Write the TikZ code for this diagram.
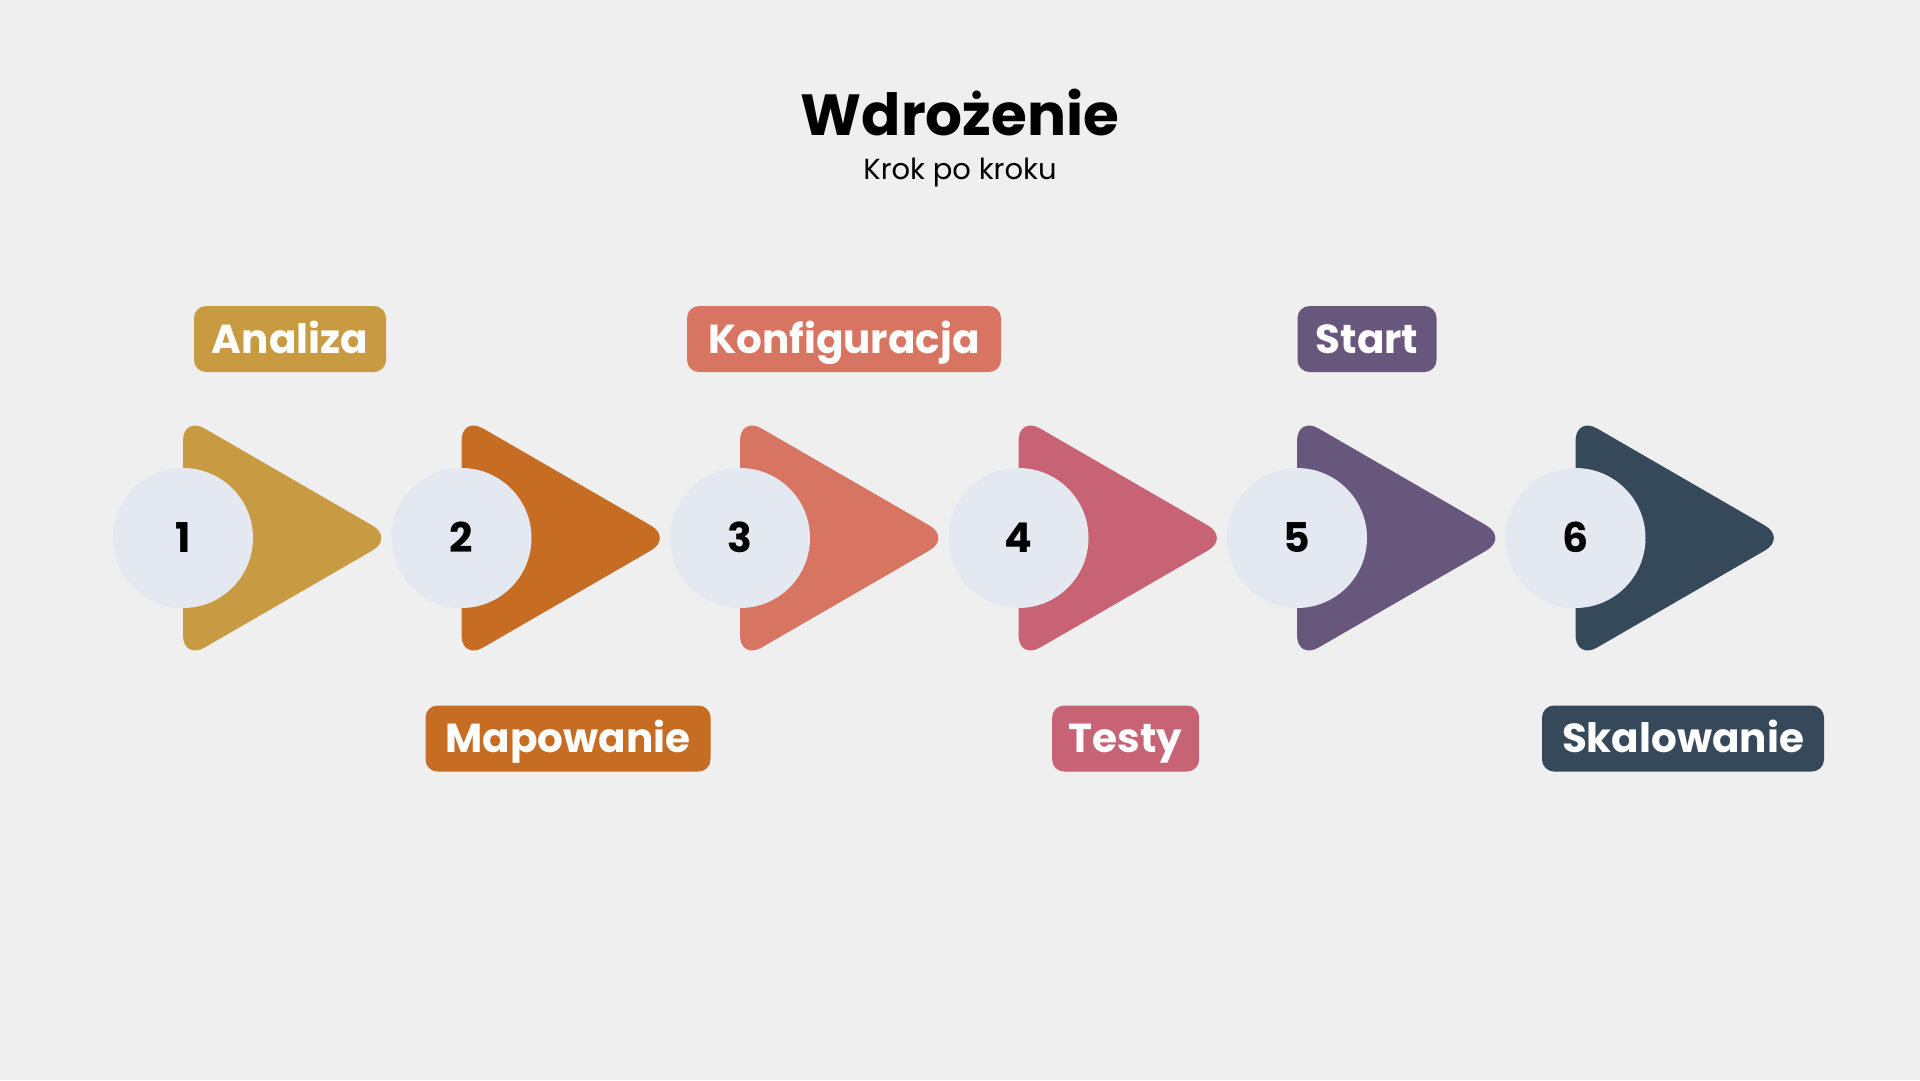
\documentclass[tikz,border=0pt]{standalone}
\usepackage{fontspec}
\setmainfont{Poppins}
\definecolor{bgc}{HTML}{EFEFEF}
\definecolor{circc}{HTML}{E4E9F1}
\definecolor{cA}{HTML}{C89A42}
\definecolor{cB}{HTML}{C66C23}
\definecolor{cC}{HTML}{D87562}
\definecolor{cD}{HTML}{C86275}
\definecolor{cE}{HTML}{68577C}
\definecolor{cF}{HTML}{36495A}
\tikzset{
  arrowshape/.style={rounded corners=25pt},
  numcircle/.style={circle, fill=circc, minimum size=140pt, inner sep=0pt,
    font=\fontsize{41}{41}\selectfont\bfseries, text=black, text height=29pt, text depth=0pt},
  tag/.style={rounded corners=12pt, minimum height=66pt, inner sep=0pt,
    text=white, font=\fontsize{40.5}{40.5}\selectfont\bfseries, text height=28pt, text depth=0pt},
}
\begin{document}
\begin{tikzpicture}[x=1pt,y=-1pt]
\fill[bgc] (0,0) rectangle (1920,1080);
\useasboundingbox (0,0) rectangle (1920,1080);
\node[anchor=base, font=\fontsize{58}{58}\selectfont\bfseries] (title) at (960,135) {Wdrożenie};
\node[anchor=base, font=\fontsize{29}{29}\selectfont] (subtitle) at (960,179) {Krok po kroku};
\foreach \i/\x/\c in {1/183/cA,2/461.5/cB,3/740/cC,4/1018.5/cD,5/1297/cE,6/1575.5/cF}{
  \fill[\c, arrowshape] (\x,416) -- (\x+211,538) -- (\x,660) -- cycle;
  \node[numcircle] (n\i) at (\x,538) {\i};
}
\node[tag, fill=cA, minimum width=192pt] (l1) at (290,339) {Analiza};
\node[tag, fill=cB, minimum width=285pt] (l2) at (568,738.5) {Mapowanie};
\node[tag, fill=cC, minimum width=314pt] (l3) at (844,339) {Konfiguracja};
\node[tag, fill=cD, minimum width=147pt] (l4) at (1125.6,738.5) {Testy};
\node[tag, fill=cE, minimum width=139pt] (l5) at (1367,339) {Start};
\node[tag, fill=cF, minimum width=282pt] (l6) at (1683,738.5) {Skalowanie};
\end{tikzpicture}
\end{document}
